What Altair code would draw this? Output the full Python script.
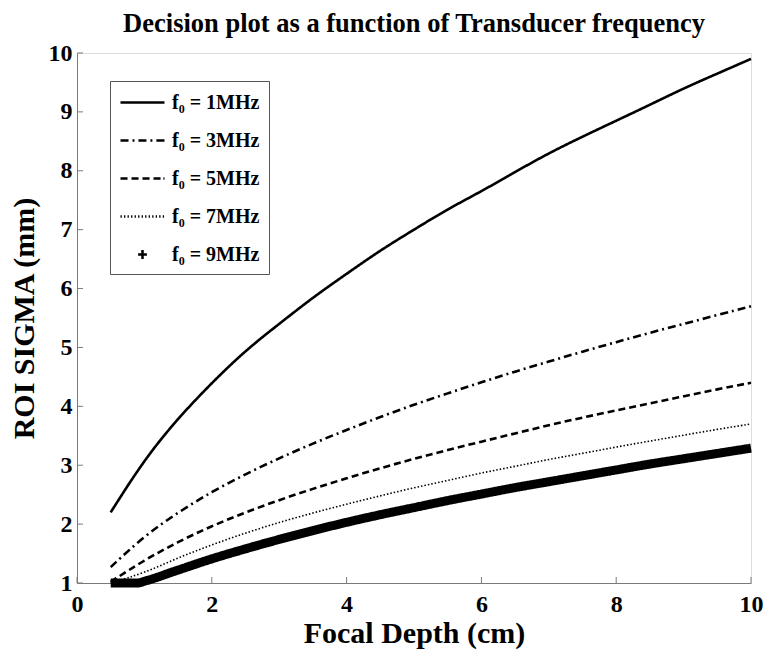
import altair as alt
import pandas as pd

# ---- data ----
x_main = [0.5, 1, 1.5, 2, 2.5, 3, 3.5, 4, 4.5, 5, 5.5, 6, 6.5, 7, 7.5, 8, 8.5, 9, 9.5, 10]
f1 = [2.2, 3.1, 3.8, 4.4, 4.95, 5.4, 5.85, 6.25, 6.65, 7.0, 7.35, 7.65, 7.98, 8.3, 8.58, 8.85, 9.12, 9.4, 9.65, 9.9]
f3 = [1.27, 1.8, 2.2, 2.55, 2.85, 3.12, 3.37, 3.6, 3.82, 4.03, 4.22, 4.41, 4.59, 4.76, 4.93, 5.09, 5.25, 5.4, 5.55, 5.7]
f5 = [1.02, 1.39, 1.7, 1.97, 2.2, 2.41, 2.6, 2.78, 2.95, 3.11, 3.26, 3.4, 3.54, 3.68, 3.81, 3.93, 4.05, 4.17, 4.29, 4.4]
f7 = [1.0, 1.17, 1.43, 1.65, 1.85, 2.03, 2.19, 2.34, 2.48, 2.62, 2.74, 2.87, 2.98, 3.1, 3.2, 3.31, 3.41, 3.51, 3.61, 3.7]
x_f9 = [0.5, 0.9, 1, 1.5, 2, 2.5, 3, 3.5, 4, 4.5, 5, 5.5, 6, 6.5, 7, 7.5, 8, 8.5, 9, 9.5, 10]
f9 = [1.0, 1.0, 1.03, 1.22, 1.41, 1.58, 1.74, 1.89, 2.03, 2.16, 2.28, 2.4, 2.51, 2.62, 2.72, 2.82, 2.92, 3.02, 3.11, 3.2, 3.29]

series_names = ["f₀ = 1MHz", "f₀ = 3MHz", "f₀ = 5MHz", "f₀ = 7MHz", "f₀ = 9MHz"]
x_ticks = [0, 2, 4, 6, 8, 10]
y_ticks = [1, 2, 3, 4, 5, 6, 7, 8, 9, 10]

# ---- styles ----
dashes = [[1, 0], [8, 4, 2, 4], [7, 4], [1.5, 2], [1, 0]]
widths = [2.6, 2.6, 2.6, 1.6, 9]
interps = ["basis", "basis", "basis", "basis", "monotone"]
FONT = "Liberation Serif"
GRAY = "#7a7a7a"
W, H = 674, 530

# legend glyphs as symbol paths (1 unit = 11 px, symbol box spans -1..3)
dotted_path = "".join(f"M{-1 + i * 0.32:.2f},0H{-1 + i * 0.32 + 0.12:.2f}" for i in range(13))
legend_shapes = [
    "M-1,0H3",
    "M-1,0H-0.27M0.09,0H0.27M0.63,0H1.36M1.72,0H1.9M2.26,0H3",
    "M-1,0H-0.36M0,0H0.64M1,0H1.64M2,0H2.64M2.9,0H3",
    dotted_path,
    "M0.6,0H1.4M1,-0.4V0.4",
]

rows = []
for name, ys in zip(series_names[:4], [f1, f3, f5, f7]):
    for xv, yv in zip(x_main, ys):
        rows.append({"x": xv, "y": yv, "series": name})
for xv, yv in zip(x_f9, f9):
    rows.append({"x": xv, "y": yv, "series": series_names[4]})
df = pd.DataFrame(rows)

legend = alt.Legend(
    title=None,
    orient="none",
    legendX=33,
    legendY=28,
    symbolSize=484,
    symbolStrokeWidth=2.5,
    symbolStrokeColor="black",
    symbolFillColor="transparent",
    symbolOpacity=1,
    labelOffset=28,
    rowPadding=15,
    padding=9,
    labelFont=FONT,
    labelFontSize=20,
    labelFontWeight="bold",
    labelColor="black",
    strokeColor="#555555",
    fillColor="white",
)

x_enc = alt.X(
    "x:Q",
    scale=alt.Scale(domain=[0, 10], nice=False, zero=False),
    axis=alt.Axis(
        values=x_ticks,
        format="d",
        title="Focal Depth (cm)",
        grid=False,
        ticks=False,
        tickSize=0,
        labelFlush=False,
        labelOverlap=False,
        labelPadding=9,
        titlePadding=2,
        domainColor=GRAY,
        labelFont=FONT,
        labelFontSize=24,
        labelFontWeight="bold",
        labelColor="black",
        titleFont=FONT,
        titleFontSize=30,
        titleFontWeight="bold",
        titleColor="black",
    ),
)
y_enc = alt.Y(
    "y:Q",
    scale=alt.Scale(domain=[1, 10], nice=False, zero=False),
    axis=alt.Axis(
        values=y_ticks,
        format="d",
        title="ROI SIGMA (mm)",
        grid=False,
        ticks=False,
        tickSize=0,
        labelOverlap=False,
        labelPadding=5,
        titlePadding=9,
        domainColor=GRAY,
        labelFont=FONT,
        labelFontSize=24,
        labelFontWeight="bold",
        labelColor="black",
        titleFont=FONT,
        titleFontSize=30,
        titleFontWeight="bold",
        titleColor="black",
    ),
)

line_layers = []
for i, name in enumerate(series_names):
    line_layers.append(
        alt.Chart(df)
        .transform_filter(alt.datum.series == name)
        .mark_line(
            color="black",
            strokeCap="butt",
            interpolate=interps[i],
            strokeDash=dashes[i],
            strokeWidth=widths[i],
        )
        .encode(x=x_enc, y=y_enc)
    )

# legend-only layer: its points are moved below the plot and clipped away
legend_layer = alt.Chart(df).transform_calculate(y="-100").mark_point(
    filled=False, color="black", strokeWidth=2.5, clip=True
).encode(
    x="x:Q",
    y="y:Q",
    shape=alt.Shape("series:N", scale=alt.Scale(domain=series_names, range=legend_shapes), legend=legend),
)

ytick_df = pd.DataFrame({"y": y_ticks})
xtick_df = pd.DataFrame({"x": x_ticks})

yt = alt.Chart(ytick_df).mark_rule(color=GRAY, strokeWidth=1).encode(
    y="y:Q", x=alt.value(0), x2=alt.value(6)
)
xt = alt.Chart(xtick_df).mark_rule(color=GRAY, strokeWidth=1).encode(
    x="x:Q", y=alt.value(H), y2=alt.value(H - 6)
)

chart = alt.layer(*line_layers, legend_layer, yt, xt).properties(
    width=W,
    height=H,
    title=alt.TitleParams(
        "Decision plot as a function of Transducer frequency",
        font=FONT,
        fontSize=26.5,
        fontWeight="bold",
        color="black",
        anchor="middle",
        frame="group",
        offset=4,
    ),
    autosize=alt.AutoSizeParams(type="none"),
    padding={"left": 69, "top": 45, "right": 15, "bottom": 70},
).configure_view(stroke=None).configure(background="white")

chart.save("out.html", embed_options={"renderer": "svg", "actions": False})
